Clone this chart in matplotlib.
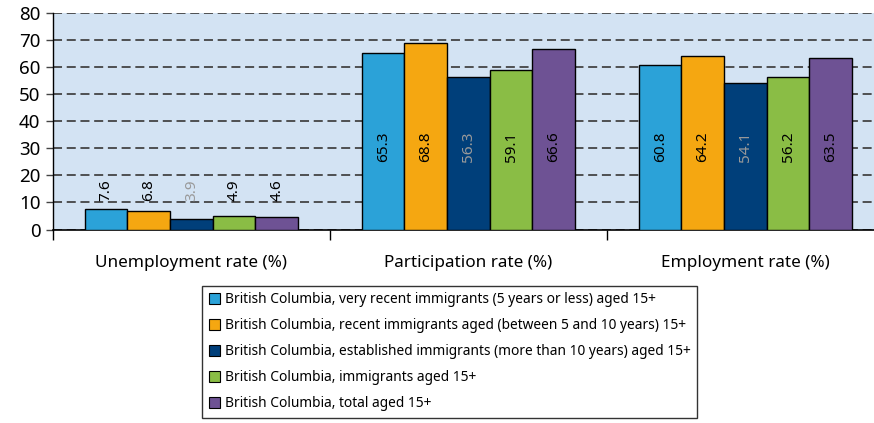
import numpy as np
import matplotlib.pyplot as plt
from matplotlib.patches import Patch

plt.rcParams['font.family'] = ['Noto Sans', 'DejaVu Sans']

categories = ['Unemployment rate (%)', 'Participation rate (%)', 'Employment rate (%)']
series = [
    'British Columbia, very recent immigrants (5 years or less) aged 15+',
    'British Columbia, recent immigrants aged (between 5 and 10 years) 15+',
    'British Columbia, established immigrants (more than 10 years) aged 15+',
    'British Columbia, immigrants aged 15+',
    'British Columbia, total aged 15+',
]
very_recent = [7.6, 65.3, 60.8]
recent = [6.8, 68.8, 64.2]
established = [3.9, 56.3, 54.1]
immigrants = [4.9, 59.1, 56.2]
total = [4.6, 66.6, 63.5]
values = [very_recent, recent, established, immigrants, total]

colors = ['#2ba2d8', '#f5a711', '#003f7a', '#8abd45', '#6e5294']
label_colors = ['black', 'black', '#9a9a9a', 'black', 'black']

fig = plt.figure(figsize=(8.74, 4.23), dpi=100)
ax = fig.add_axes([0.0606, 0.4574, 0.9508, 0.5119])
ax.set_facecolor('#d3e3f3')

n = len(series)
group = 0.77
w = group / n
x = np.arange(len(categories))

for i, (vals, c) in enumerate(zip(values, colors)):
    pos = x - group / 2 + w * (i + 0.5)
    ax.bar(pos, vals, width=w, color=c, edgecolor='black', linewidth=1.0, zorder=3)
    for p, v in zip(pos, vals):
        if v < 20:
            ax.text(p, 10.6, f'{v:.1f}', rotation=90, ha='center', va='bottom',
                    fontsize=11, color=label_colors[i], zorder=4)
        else:
            ax.text(p, 30.6, f'{v:.1f}', rotation=90, ha='center', va='center',
                    fontsize=11, color=label_colors[i], zorder=4)

ax.set_xlim(-0.5, 2.5)
ax.set_ylim(0, 80)
ax.set_yticks(range(0, 81, 10))
ax.yaxis.grid(True, linestyle=(0, (5, 2.6)), color='#444444', linewidth=1.3, zorder=1)
ax.tick_params(axis='y', labelsize=13.5, length=5, width=1, color='#444444', pad=4)

# category ticks sit on the group boundaries, labels centered under each group
ax.set_xticks([-0.5, 0.5, 1.5, 2.5])
ax.set_xticklabels([])
ax.set_xticks(x, minor=True)
ax.set_xticklabels(categories, minor=True, fontsize=12.3)
ax.tick_params(axis='x', which='major', length=7, width=1)
ax.tick_params(axis='x', which='minor', length=0, pad=18)

for s in ['top', 'right']:
    ax.spines[s].set_visible(False)
ax.spines['left'].set_linewidth(1)
ax.spines['bottom'].set_linewidth(1.2)

handles = [Patch(facecolor=c, edgecolor='black', linewidth=0.8) for c in colors]
leg = fig.legend(handles, series, loc='upper left', bbox_to_anchor=(0.231, 0.325),
                 fontsize=9.9, frameon=True, fancybox=False, handlelength=0.85,
                 handleheight=0.85, handletextpad=0.3, labelspacing=0.8,
                 borderpad=0.5, borderaxespad=0)
leg.get_frame().set_edgecolor('black')
leg.get_frame().set_linewidth(1)

fig.savefig('out.png', dpi=100)
